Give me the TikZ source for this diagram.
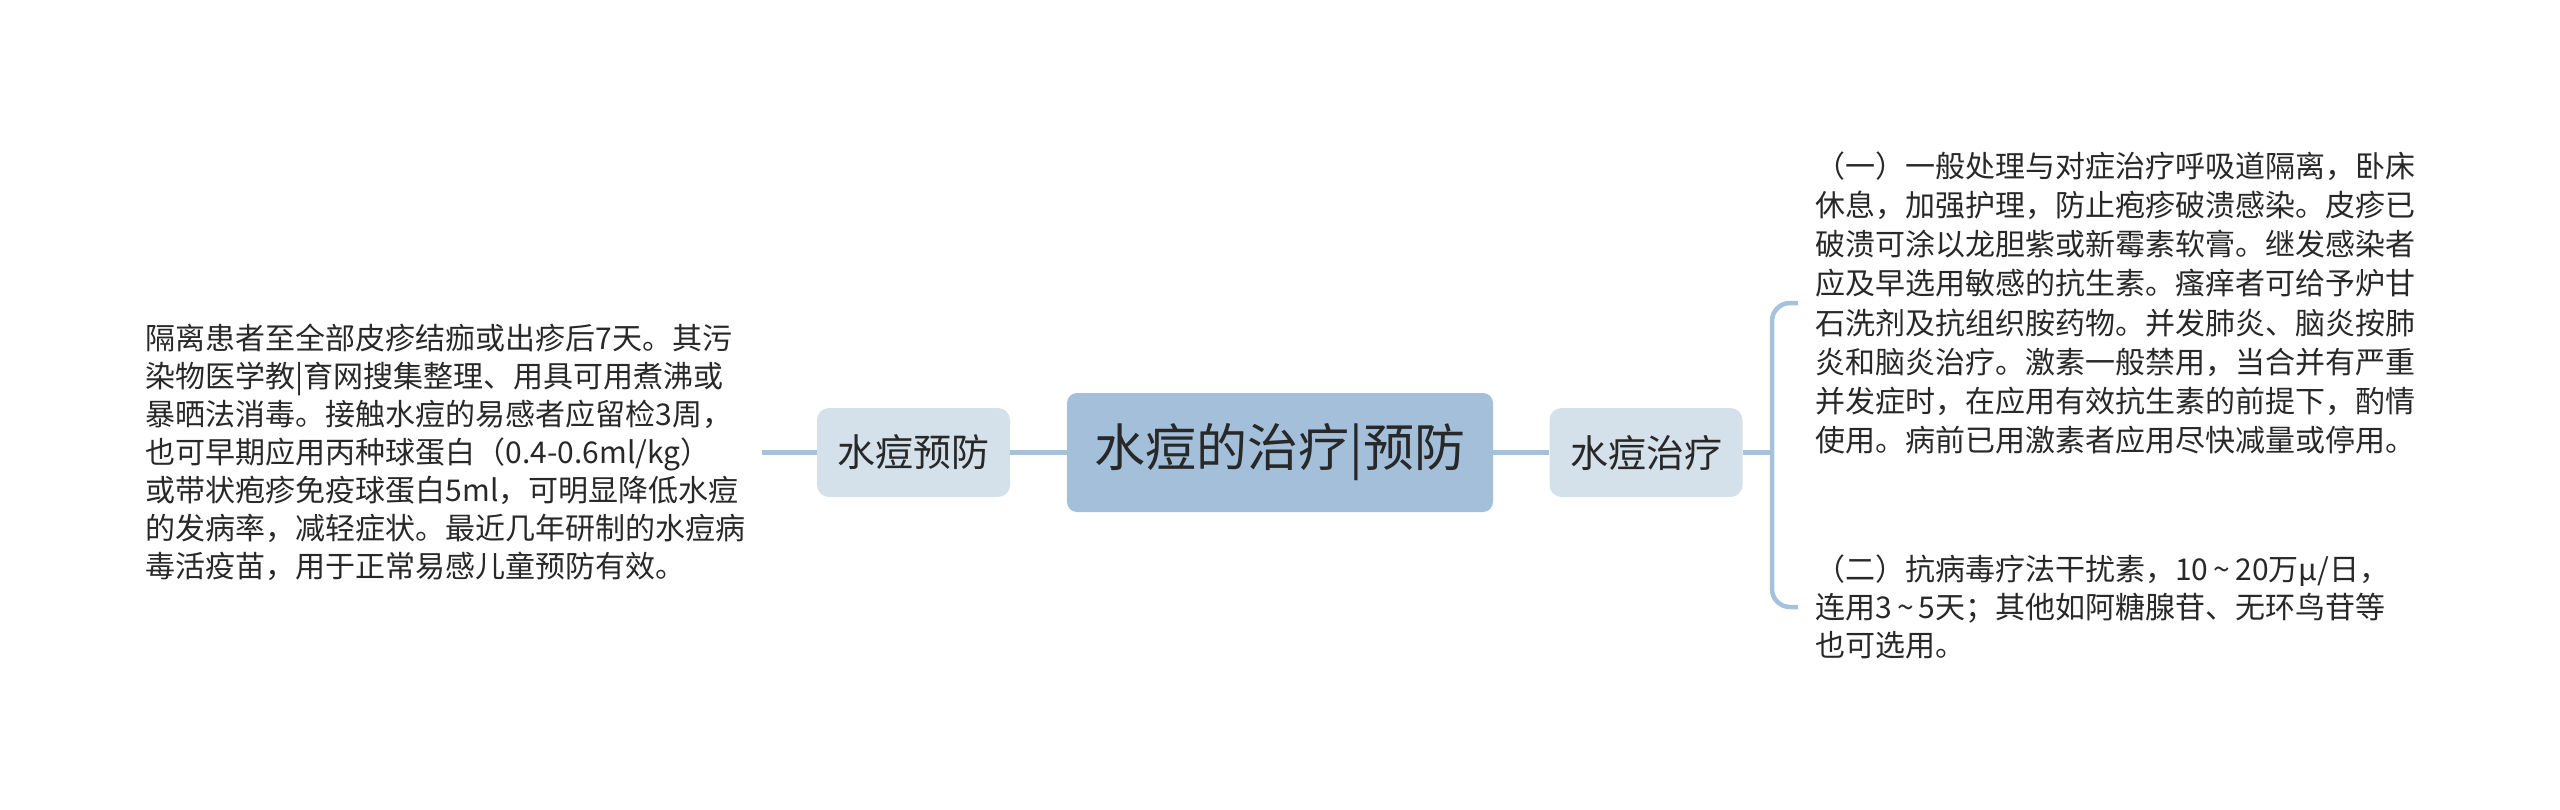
\documentclass[tikz,border=0pt]{standalone}
\usepackage{fontspec}
\setmainfont{Noto Sans CJK SC}
\definecolor{mainfill}{RGB}{163,191,217}
\definecolor{subfill}{RGB}{212,224,234}
\definecolor{linecol}{RGB}{166,193,219}
\definecolor{txt}{RGB}{40,40,40}
\newcommand{\tld}{\makebox[0.9em]{\textasciitilde}}
\tikzset{
  mainnode/.style={fill=mainfill, rounded corners=10pt, minimum width=426pt, minimum height=119pt, inner sep=0pt, text=txt, font=\fontsize{51}{60}\selectfont},
  subnode/.style={fill=subfill, rounded corners=12pt, minimum width=193pt, minimum height=89pt, inner sep=0pt, text=txt, font=\fontsize{38}{45}\selectfont},
  leaf/.style={text=txt, align=left, inner ysep=0pt, font=\fontsize{30}{38}\selectfont},
  conn/.style={draw=linecol, line width=4.5pt},
}
\begin{document}
\begin{tikzpicture}[x=1pt,y=-1pt]
\useasboundingbox (0,0) rectangle (2560,809);
\node[mainnode] (c) at (1280,452.5) {水痘的治疗|预防};
\node[subnode] (lp) at (913.5,452.5) {水痘预防};
\node[subnode] (rp) at (1646,452.5) {水痘治疗};
\node[leaf, anchor=east, inner xsep=0pt, text width=616pt] (lt) at (762,452.5) {隔离患者至全部皮疹结痂或出疹后7天。其污\\染物医学教|育网搜集整理、用具可用煮沸或\\暴晒法消毒。接触水痘的易感者应留检3周，\\也可早期应用丙种球蛋白（0.4-0.6ml/kg）\\或带状疱疹免疫球蛋白5ml，可明显降低水痘\\的发病率，减轻症状。最近几年研制的水痘病\\毒活疫苗，用于正常易感儿童预防有效。};
\node[leaf, anchor=west, inner xsep=17pt, text width=600pt, font=\fontsize{30}{39.2}\selectfont] (t1) at (1798,303) {（一）一般处理与对症治疗呼吸道隔离，卧床\\休息，加强护理，防止疱疹破溃感染。皮疹已\\破溃可涂以龙胆紫或新霉素软膏。继发感染者\\应及早选用敏感的抗生素。瘙痒者可给予炉甘\\石洗剂及抗组织胺药物。并发肺炎、脑炎按肺\\炎和脑炎治疗。激素一般禁用，当合并有严重\\并发症时，在应用有效抗生素的前提下，酌情\\使用。病前已用激素者应用尽快减量或停用。};
\node[leaf, anchor=west, inner xsep=17pt, text width=600pt] (t2) at (1798,607) {（二）抗病毒疗法干扰素，10\tld 20万μ/日，\\连用3\tld 5天；其他如阿糖腺苷、无环鸟苷等\\也可选用。};
\coordinate (br) at (1772,452.5);
\draw[conn] (lt.east |- lp.west) -- (lp.west);
\draw[conn] (lp.east) -- (c.west);
\draw[conn] (c.east) -- (rp.west);
\draw[conn] (rp.east) -- (br);
\draw[conn, rounded corners=18pt] (t1.west) -| (br) |- (t2.west);
\end{tikzpicture}
\end{document}
